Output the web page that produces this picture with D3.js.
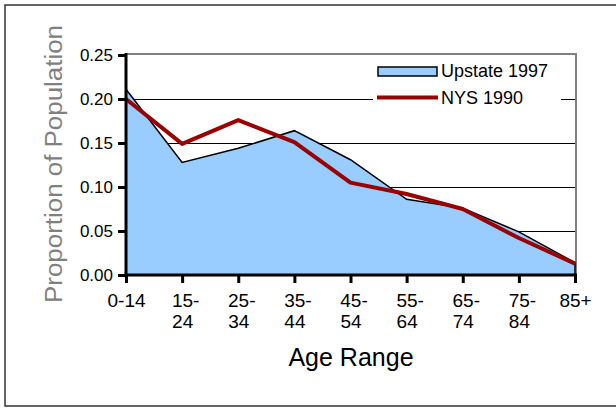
<!DOCTYPE html>
<html><head><meta charset="utf-8">
<script src="https://cdn.jsdelivr.net/npm/d3@7"></script>
<style>body{margin:0;background:#fff}svg{display:block;font-family:"Liberation Sans",Arial,sans-serif}</style>
</head><body>
<script>
const categories = ["0-14","15-24","25-34","35-44","45-54","55-64","65-74","75-84","85+"];
const tickLines = [["0-14"],["15-","24"],["25-","34"],["35-","44"],["45-","54"],["55-","64"],["65-","74"],["75-","84"],["85+"]];
const upstate1997 = [0.211,0.128,0.144,0.164,0.131,0.086,0.076,0.049,0.014];
const nys1990 = [0.200,0.149,0.176,0.151,0.105,0.092,0.075,0.042,0.013];
const yTicks = [0,0.05,0.10,0.15,0.20,0.25];

const W=616,H=408;
const svg=d3.select("body").append("svg").attr("width",W).attr("height",H);
svg.append("rect").attr("x",5).attr("y",5).attr("width",620).attr("height",401)
  .attr("fill","#fff").attr("stroke","#333").attr("stroke-width",1.5);

const x=d3.scalePoint().domain(categories).range([126,575]);
const y=d3.scaleLinear().domain([0,0.25]).range([275,55]);

// gridlines
svg.append("g").selectAll("line").data(yTicks.filter(d=>d>0&&d<0.25)).join("line")
  .attr("x1",126).attr("x2",576).attr("y1",d=>Math.round(y(d))+0.5).attr("y2",d=>Math.round(y(d))+0.5)
  .attr("stroke","#000").attr("stroke-width",1).attr("shape-rendering","crispEdges");
// plot border top/right
svg.append("path").attr("d",`M126,${y(0.25)-1}H576V${y(0)}`).attr("fill","none")
  .attr("stroke","#808080").attr("stroke-width",2);

// area
const area=d3.area().x((d,i)=>x(categories[i])).y0(y(0)).y1(d=>y(d));
svg.append("path").datum(upstate1997).attr("d",area).attr("fill","#99ccff");
const line=d3.line().x((d,i)=>x(categories[i])).y(d=>y(d));
svg.append("path").datum(upstate1997).attr("d",line).attr("fill","none")
  .attr("stroke","#000").attr("stroke-width",1.5);
svg.append("line").attr("x1",x("85+")).attr("x2",x("85+")).attr("y1",y(upstate1997[8])).attr("y2",y(0))
  .attr("stroke","#000").attr("stroke-width",1.5);
svg.append("path").datum(nys1990).attr("d",line).attr("fill","none")
  .attr("stroke","#990000").attr("stroke-width",4).attr("stroke-linejoin","round");

// legend
const lg=svg.append("g");
lg.append("rect").attr("x",373).attr("y",58).attr("width",188).attr("height",56).attr("fill","#fff");
lg.append("rect").attr("x",378).attr("y",67).attr("width",59).attr("height",9)
  .attr("fill","#99ccff").attr("stroke","#000").attr("stroke-width",1.5);
lg.append("line").attr("x1",377).attr("x2",438).attr("y1",97.5).attr("y2",97.5)
  .attr("stroke","#990000").attr("stroke-width",4);
lg.append("text").attr("x",441).attr("y",77).attr("font-size",18).text("Upstate 1997");
lg.append("text").attr("x",441).attr("y",104).attr("font-size",18).text("NYS 1990");

// axes
const yAxis=svg.append("g").attr("transform","translate(126,0)")
  .call(d3.axisLeft(y).tickValues(yTicks).tickFormat(d3.format(".2f")).tickSize(8).tickPadding(5));
yAxis.select(".domain").attr("stroke","#000").attr("stroke-width",3).attr("d",`M0,${y(0.25)-2}V${y(0)+1.5}`);
yAxis.selectAll(".tick line").attr("stroke","#000").attr("stroke-width",3);
yAxis.selectAll(".tick text").attr("font-size",17).attr("fill","#000")
  .attr("font-family","Liberation Sans, Arial, sans-serif");

const xAxis=svg.append("g").attr("transform",`translate(0,${y(0)})`)
  .call(d3.axisBottom(x).tickSize(8).tickFormat(""));
xAxis.select(".domain").attr("stroke","#000").attr("stroke-width",3).attr("d",`M124.5,0H577`);
xAxis.selectAll(".tick line").attr("stroke","#000").attr("stroke-width",3);
xAxis.selectAll(".tick").each(function(d,i){
  const t=d3.select(this).append("text").attr("fill","#000").attr("font-size",19)
    .attr("text-anchor","middle").attr("font-family","Liberation Sans, Arial, sans-serif");
  tickLines[i].forEach((s,j)=>{
    t.append("tspan").attr("x",0).attr("y",31.5+j*21)
      .attr("dx", tickLines[i].length===2&&j===0?3:0).text(s);
  });
});

// titles
svg.append("text").attr("x",351).attr("y",366).attr("text-anchor","middle").attr("font-size",25)
  .text("Age Range");
svg.append("text").attr("transform","translate(62,164) rotate(-90)").attr("text-anchor","middle")
  .attr("font-size",23).attr("fill","#808080").attr("textLength",278).attr("lengthAdjust","spacingAndGlyphs")
  .text("Proportion of Population");
</script>
</body></html>
